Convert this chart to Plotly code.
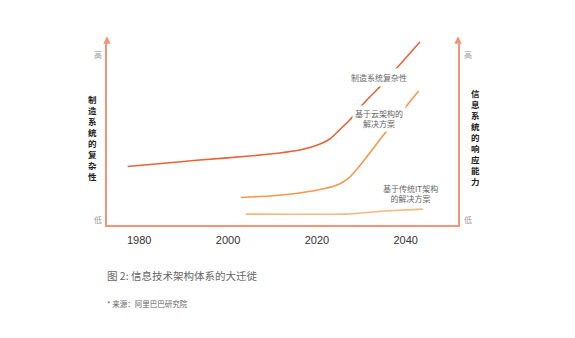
import plotly.graph_objects as go

# ---- data (years, relative level 0-100) ----
mfg_years = [1977.4, 1982.4, 1993.6, 2004.9, 2011.6, 2016.1, 2019.5, 2022.9, 2025.1, 2027.4, 2029.6, 2031.9, 2033.7, 2038.0, 2043.2]
mfg_vals = [31.6, 32.7, 35.1, 37.3, 38.9, 40.5, 42.7, 46.5, 51.4, 56.8, 63.2, 69.2, 73.5, 84.9, 98.9]

cloud_years = [2002.9, 2009.4, 2016.1, 2021.8, 2025.1, 2027.4, 2029.6, 2031.9, 2034.1, 2035.7, 2039.8, 2042.9]
cloud_vals = [14.9, 15.7, 17.3, 19.7, 22.2, 25.9, 31.9, 38.9, 45.9, 50.8, 63.2, 72.4]

trad_years = [2004.0, 2026.9, 2035.3, 2043.8]
trad_vals = [5.9, 5.9, 7.6, 8.6]

tick_years = [1980, 2000, 2020, 2040]
tick_labels = ["1980", "2000", "2020", "2040"]

left_title = "制造系统的复杂性"
right_title = "信息系统的响应能力"

CJK = "Noto Sans CJK SC"
AXIS = "#f29478"

fig = go.Figure()
fig.add_trace(go.Scatter(x=mfg_years, y=mfg_vals, mode="lines", line=dict(color="#e5643a", width=1.6, shape="spline", smoothing=0.6), hoverinfo="skip"))
fig.add_trace(go.Scatter(x=cloud_years, y=cloud_vals, mode="lines", line=dict(color="#f39a4c", width=1.6, shape="spline", smoothing=0.6), hoverinfo="skip"))
fig.add_trace(go.Scatter(x=trad_years, y=trad_vals, mode="lines", line=dict(color="#f5b87a", width=1.6, shape="spline", smoothing=0.4), hoverinfo="skip"))

W, H = 575, 338
L, R, T, B = 107, 117, 40, 113

fig.update_layout(
    width=W, height=H,
    margin=dict(l=L, r=R, t=T, b=B, pad=0),
    paper_bgcolor="white", plot_bgcolor="white",
    showlegend=False,
    font=dict(family=CJK, color="#666"),
    xaxis=dict(range=[1972.75, 2051.77], showgrid=False, zeroline=False,
               showline=True, linecolor=AXIS, linewidth=1.5, mirror=False,
               tickvals=tick_years, ticktext=tick_labels, ticks="",
               ticklabelstandoff=4,
               tickfont=dict(family="Liberation Sans, Arial", size=11, color="#333")),
    yaxis=dict(range=[0, 100], showgrid=False, zeroline=False, showticklabels=False,
               showline=True, linecolor=AXIS, linewidth=1.5, mirror=True, ticks=""),
)

ann = []
# arrow heads on vertical axes
for xp in (0, 1):
    ann.append(dict(x=xp, y=1.02, xref="paper", yref="paper", ax=0, ay=8, axref="pixel", ayref="pixel",
                    showarrow=True, arrowhead=2, arrowsize=1, arrowwidth=1.5, arrowcolor=AXIS, text=""))

# high/low marks
for xp, xs in ((0, -9), (1, 10)):
    ann.append(dict(x=xp, y=(225 - 55) / 185, xref="paper", yref="paper", xshift=xs, text="高",
                    xanchor="center", yanchor="middle",
                    showarrow=False, font=dict(family=CJK, size=8, color="#999")))
    ann.append(dict(x=xp, y=(225 - 219) / 185, xref="paper", yref="paper", xshift=xs, text="低",
                    xanchor="center", yanchor="middle",
                    showarrow=False, font=dict(family=CJK, size=8, color="#999")))

# vertical titles, one glyph per line in a single text block
def vtitle(chars, xpix, ycenter, size):
    ann.append(dict(x=(xpix - L) / (W - L - R), y=(225 - ycenter) / 185, xref="paper", yref="paper",
                    xanchor="center", yanchor="middle", align="center",
                    text="<br>".join(chars), showarrow=False,
                    font=dict(family=CJK, size=size, color="#222", weight="bold")))

vtitle(left_title, 92.3, 137.5, 8.5)
vtitle(right_title, 475, 137.2, 8.5)

# curve labels (white box hides the line behind)
ann.append(dict(x=2034.0, y=(225 - 77) / 1.85, text="制造系统复杂性", showarrow=False, bgcolor="white", borderpad=3,
                xanchor="center", yanchor="middle",
                font=dict(family=CJK, size=8, color="#666")))
ann.append(dict(x=2034.0, y=(225 - 118.5) / 1.85, text="基于云架构的<br>解决方案", showarrow=False, bgcolor="white", borderpad=2,
                xanchor="center", yanchor="middle",
                font=dict(family=CJK, size=8, color="#666")))
ann.append(dict(x=2041.0, y=(225 - 193.5) / 1.85, text="基于传统IT架构<br>的解决方案", showarrow=False, bgcolor="white", borderpad=1,
                xanchor="center", yanchor="middle",
                font=dict(family=CJK, size=8, color="#666")))

# caption and source (converted from figure pixels to plot-domain fractions)
def fig_px(xpix, ypix):
    return (xpix - L) / (W - L - R), (H - ypix - B) / (H - T - B)

cx, cy = fig_px(105, 275.7)
ann.append(dict(x=cx, y=cy, xref="paper", yref="paper", xanchor="left", yanchor="middle",
                text="图 2: 信息技术架构体系的大迁徙", showarrow=False, font=dict(family=CJK, size=10.5, color="#666")))
sx, sy = fig_px(105, 303)
ann.append(dict(x=sx, y=sy, xref="paper", yref="paper", xanchor="left", yanchor="middle",
                text="* 来源：阿里巴巴研究院", showarrow=False, font=dict(family=CJK, size=7.5, color="#666")))

fig.update_layout(annotations=ann)
fig.write_html("out.html")
